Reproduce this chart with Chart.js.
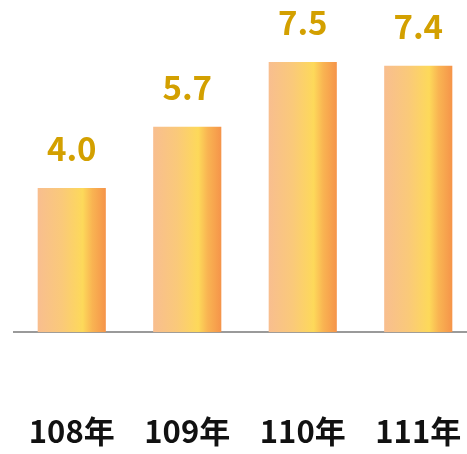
<!DOCTYPE html>
<html>
<head>
<meta charset="utf-8">
<script src="https://cdn.jsdelivr.net/npm/chart.js@4"></script>
<style>
  html, body { margin: 0; padding: 0; background: #fff; overflow: hidden; }
  canvas { display: block; }
</style>
</head>
<body>
<canvas id="rateChart" width="476" height="454"></canvas>
<script>
const years = ["108年", "109年", "110年", "111年"];
const rates = [4.0, 5.7, 7.5, 7.4];
const valueLabels = ["4.0", "5.7", "7.5", "7.4"];

// gradient fill across each bar, left to right
const barGradient = {
  id: "barGradient",
  beforeDatasetsDraw(chart) {
    const ctx = chart.ctx;
    chart.getDatasetMeta(0).data.forEach(bar => {
      const left = bar.x - bar.width / 2;
      const g = ctx.createLinearGradient(left, 0, left + bar.width, 0);
      g.addColorStop(0, "#F8BE8F");
      g.addColorStop(0.35, "#FAC97A");
      g.addColorStop(0.66, "#FDD95A");
      g.addColorStop(0.8, "#F9B452");
      g.addColorStop(1, "#F5944A");
      bar.options.backgroundColor = g;
    });
  }
};

// value numbers above bars
const valueText = {
  id: "valueText",
  afterDatasetsDraw(chart) {
    const ctx = chart.ctx;
    ctx.save();
    ctx.font = "bold 33px 'Noto Sans CJK TC'";
    ctx.fillStyle = "#D3A000";
    ctx.textAlign = "center";
    ctx.textBaseline = "alphabetic";
    chart.getDatasetMeta(0).data.forEach((bar, i) => {
      ctx.fillText(valueLabels[i], bar.x, bar.y - 27);
    });
    ctx.restore();
  }
};

new Chart(document.getElementById("rateChart").getContext("2d"), {
  type: "bar",
  data: {
    labels: years,
    datasets: [{
      data: rates,
      backgroundColor: () => "#FACB6E",
      borderWidth: 0,
      barPercentage: 0.59,
      categoryPercentage: 1.0
    }]
  },
  options: {
    responsive: false,
    animation: false,
    layout: { padding: { left: 14, right: 0, top: 0, bottom: 1.6 } },
    plugins: {
      legend: { display: false },
      tooltip: { enabled: false }
    },
    scales: {
      x: {
        grid: { display: false, drawTicks: false },
        border: { display: true, color: "#9a9a9a", width: 2 },
        ticks: {
          color: "#111",
          padding: 2,
          maxRotation: 0,
          // push the year labels well below the axis line
          callback: (v, i) => ["", "", years[i]],
          font: { family: "'Noto Sans CJK TC'", size: 31, weight: "bold", lineHeight: 1.25 }
        }
      },
      y: {
        display: false,
        min: 0,
        max: 332 / 36
      }
    }
  },
  plugins: [barGradient, valueText]
});
</script>
</body>
</html>
